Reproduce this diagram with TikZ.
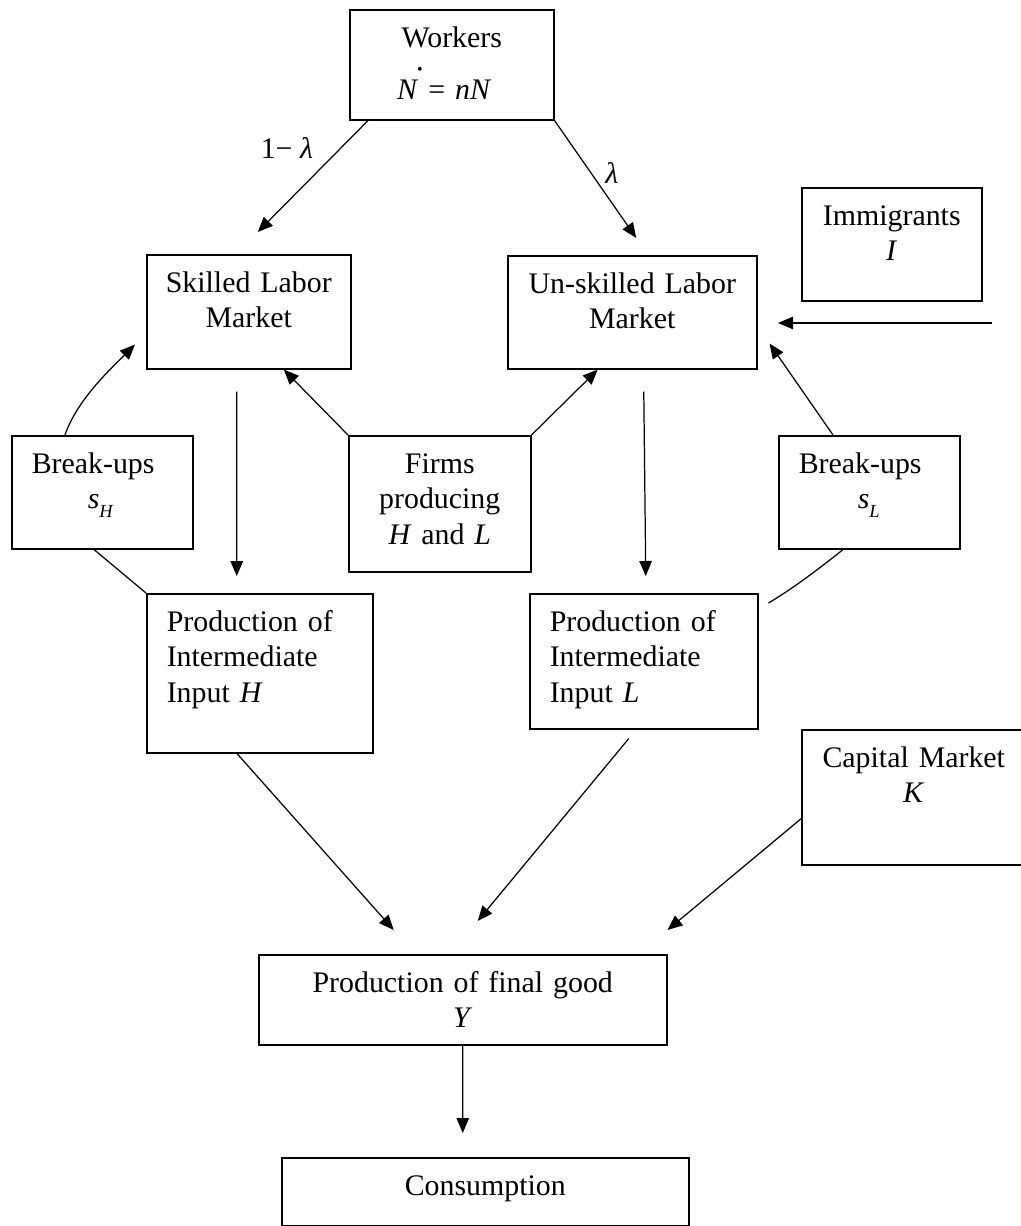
\documentclass[tikz,border=0pt]{standalone}
\usepackage{fontspec}
\setmainfont{Liberation Serif}
\usetikzlibrary{arrows.meta,calc}

\newcommand{\lowidx}[1]{\raisebox{-0.17cm}{\fontsize{10.5}{11}\selectfont\textit{#1}}}
\newcommand{\Ndot}{\makebox[0pt][l]{\hspace{0.4cm}\raisebox{0.5cm}{\fontsize{9}{9}\selectfont\textbullet}}\textit{N}}

\tikzset{
  box/.style={draw, rectangle, line width=0.9pt, anchor=north west,
    inner xsep=0.2cm, inner ysep=0pt, text height=0.76cm, align=center},
  lbox/.style={box, inner xsep=0.4cm, align=left},
  arr/.style={-{Triangle[length=0.3cm,width=0.25cm]}, line width=0.7pt},
  link/.style={line width=0.7pt}
}

\begin{document}
\begin{tikzpicture}[x=0.02cm, y=-0.02cm, font=\fontsize{17}{20}\selectfont]
\useasboundingbox (0,0) rectangle (1020,1226);

% boxes
\node (wk) at (349,9) [box, text width=3.68cm, text depth=1.44cm]
  {Workers\\[0.34cm]\Ndot{} = \textit{nN}\hspace*{0.3cm}\mbox{}};
\node (sk) at (146,254) [box, text width=3.68cm, text depth=1.52cm]
  {Skilled Labor\\Market};
\node (us) at (507,255) [box, text width=4.58cm, text depth=1.5cm]
  {Un-skilled Labor\\Market};
\node (im) at (801,187) [box, text width=3.2cm, text depth=1.5cm]
  {Immigrants\\\textit{I}};
\node (bh) at (11,435) [lbox, text width=2.82cm, text depth=1.5cm]
  {Break-ups\\\hspace*{1.12cm}\textit{s}\lowidx{H}};
\node (fi) at (348,435) [box, text width=3.24cm, text depth=1.96cm]
  {Firms\\producing\\\textit{H} and \textit{L}};
\node (bl) at (778,435) [lbox, text width=2.82cm, text depth=1.5cm]
  {Break-ups\\\hspace*{1.18cm}\textit{s}\lowidx{L}};
\node (ph) at (146,593) [lbox, text width=3.72cm, text depth=2.42cm]
  {Production of\\Intermediate\\Input \textit{H}};
\node (pl) at (529,593) [lbox, text width=3.76cm, text depth=1.94cm]
  {Production of\\Intermediate\\Input \textit{L}};
\node (ca) at (801,729) [box, text width=4.08cm, text depth=1.94cm]
  {Capital Market\\\textit{K}};
\node (fg) at (258,954) [box, text width=7.76cm, text depth=1.04cm]
  {Production of final good\\\textit{Y}};
\node (co) at (281,1157) [box, text width=7.74cm, text depth=0.6cm]
  {Consumption};

% workers split
\draw[arr] ($(wk.south west)+(19,0)$)
  -- node[pos=0.25, left=0.42cm] (lamH) {1− \textit{λ}}
  ($(sk.north)+(9,-22)$);
\draw[arr] (wk.south east)
  -- node[pos=0.45, right=0.15cm] (lamL) {\textit{λ}}
  ($(us.north)+(4,-17)$);

% labor markets to production
\draw[arr] ($(sk.south)+(-12,22)$) -- ($(ph.north)+(-23,-17)$);
\draw[arr] ($(us.south)+(11.5,22)$) -- ($(pl.north)+(2,-17)$);

% firms
\draw[arr] (fi.north west) -- ($(sk.south)+(35,0)$);
\draw[arr] (fi.north east) -- ($(us.south)+(-34.5,0)$);

% immigrants
\coordinate (imsrc) at (992,323);
\draw[arr] (imsrc) -- ++(-214,0);

% break-ups
\draw[arr] ($(bh.north west)+(54,0)$) .. controls +(12,-35) and +(-25,25)
  .. ($(sk.south west)+(-11,-25)$);
\draw[link] ($(bh.south west)+(83,0)$) -- (ph.north west);
\draw[arr] ($(bl.north west)+(55,0)$) -- ($(us.south east)+(12,-26)$);
\draw[link] ($(bl.south west)+(65,0)$) .. controls +(-25,20) and +(25,-15)
  .. ($(pl.north east)+(10,10)$);

% final good
\draw[arr] ($(ph.south west)+(91,0)$) -- ($(fg.north)+(-69,-24)$);
\draw[arr] ($(pl.south)+(-15,9)$) -- ($(fg.north)+(15,-33)$);
\draw[arr] ($(ca.west)+(0,21.5)$) -- ($(fg.north east)+(0,-24)$);
\draw[arr] (fg.south) -- ($(co.north)+(-22.5,-24)$);
\end{tikzpicture}
\end{document}
